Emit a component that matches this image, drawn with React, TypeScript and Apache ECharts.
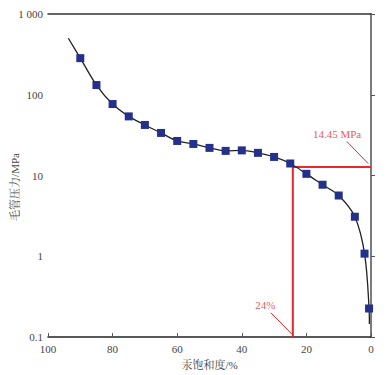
import React, { useEffect, useRef } from "react";
import * as echarts from "echarts";

// saturation (%) of measured points
const satValues = [90, 85, 80, 75, 70, 65, 60, 55, 50, 45, 40, 35, 30, 25, 20, 15, 10, 5, 2, 0.6];
// capillary pressure (MPa) of measured points
const pressureValues = [284, 132, 76.8, 54, 42.3, 33.7, 26.8, 24.6, 22, 20.2, 20.5, 19.1, 17, 14.1, 10.5, 7.7, 5.66, 3.09, 1.08, 0.226];
// fitted curve end points (beyond the measured points)
const curveStart = [93.7, 501];
const curveEnd = [0.5, 0.145];
// reference lines
const refSat = 24.2;
const refPressure = 12.8;
const refLabelPressure = "14.45 MPa";
const refLabelSat = "24%";
// annotation leaders (data space)
const leaderPressure = [[7.5, 26.5], [0.9, 14.1]];
const leaderSat = [[31.0, 0.2], [24.5, 0.109]];
const labelPressurePos = [10.5, 33];
const labelSatPos = [32.7, 0.248];
const xTicks = [100, 80, 60, 40, 20, 0];
const yTickLabels: Record<string, string> = { "0.1": "0.1", "1": "1", "10": "10", "100": "100", "1000": "1 000" };

const SERIF = "'Liberation Serif', 'DejaVu Serif', 'Noto Serif CJK SC', serif";
const RED = "#e8282c";

export default function App() {
  const ref = useRef<HTMLDivElement>(null);
  useEffect(() => {
    document.body.style.margin = "0";
    if (!ref.current) return;
    const chart = echarts.init(ref.current, undefined, { renderer: "svg" });
    const points = satValues.map((s, i) => [s, pressureValues[i]]);
    const curve = [curveStart, ...points, curveEnd];
    chart.setOption({
      animation: false,
      backgroundColor: "#fff",
      grid: { left: 48, right: 19, top: 14, bottom: 37, show: false },
      xAxis: [
        {
          type: "value",
          inverse: true,
          min: 0,
          max: 100,
          interval: 20,
          name: "汞饱和度/%",
          nameLocation: "middle",
          nameGap: 19,
          nameTextStyle: { fontFamily: SERIF, fontSize: 11, color: "#444" },
          axisLine: { lineStyle: { color: "#222", width: 1.5 } },
          axisTick: { inside: true, length: 4, lineStyle: { color: "#555" } },
          axisLabel: {
            fontFamily: SERIF,
            fontSize: 11,
            color: "#444",
            margin: 6,
            customValues: xTicks,
          },
          splitLine: { show: false },
        },
        {
          type: "value",
          position: "top",
          inverse: true,
          min: 0,
          max: 100,
          axisLine: { show: true, lineStyle: { color: "#333", width: 1.5 } },
          axisTick: { show: false },
          axisLabel: { show: false },
          splitLine: { show: false },
        },
      ],
      yAxis: [
        {
          type: "log",
          logBase: 10,
          min: 0.1,
          max: 1000,
          axisLine: { show: true, lineStyle: { color: "#222", width: 1.5 } },
          axisTick: { show: true, inside: true, length: 4, lineStyle: { color: "#555" } },
          axisLabel: {
            fontFamily: SERIF,
            fontSize: 11,
            color: "#444",
            margin: 5,
            formatter: (v: number) => {
              const k = String(Math.round(v * 10) / 10);
              return yTickLabels[k] ?? k;
            },
          },
          minorTick: { show: false },
          splitLine: { show: false },
        },
        {
          type: "log",
          position: "right",
          min: 0.1,
          max: 1000,
          axisLine: { show: true, lineStyle: { color: "#888", width: 1.5 } },
          axisTick: { show: false },
          axisLabel: { show: false },
          splitLine: { show: false },
        },
      ],
      graphic: [
        {
          type: "text",
          x: 15,
          y: 187,
          rotation: Math.PI / 2,
          style: {
            text: "毛管压力/MPa",
            fontFamily: SERIF,
            fontSize: 11,
            fill: "#444",
            align: "center",
            verticalAlign: "middle",
          },
        },
      ],
      series: [
        {
          type: "line",
          data: [[refSat, 0.1], [refSat, refPressure], [0, refPressure]],
          showSymbol: false,
          lineStyle: { color: RED, width: 2 },
          z: 2,
        },
        {
          type: "line",
          data: leaderPressure,
          showSymbol: false,
          lineStyle: { color: RED, width: 1 },
        },
        {
          type: "line",
          data: leaderSat,
          showSymbol: false,
          lineStyle: { color: RED, width: 1 },
        },
        {
          type: "line",
          data: curve,
          smooth: 0.35,
          showSymbol: false,
          lineStyle: { color: "#222", width: 1.3 },
          z: 3,
        },
        {
          type: "scatter",
          data: points,
          symbol: "rect",
          symbolSize: 8,
          itemStyle: { color: "#23318c", opacity: 1 },
          z: 4,
        },
        {
          type: "scatter",
          data: [
            { value: labelPressurePos, name: refLabelPressure },
            { value: labelSatPos, name: refLabelSat },
          ],
          symbolSize: 0,
          label: {
            show: true,
            position: "inside",
            formatter: (p: any) => p.name,
            fontFamily: SERIF,
            fontSize: 11,
            color: RED,
          },
          z: 5,
        },
      ],
    });
    return () => chart.dispose();
  }, []);
  return <div ref={ref} style={{ width: 390, height: 375 }} />;
}
